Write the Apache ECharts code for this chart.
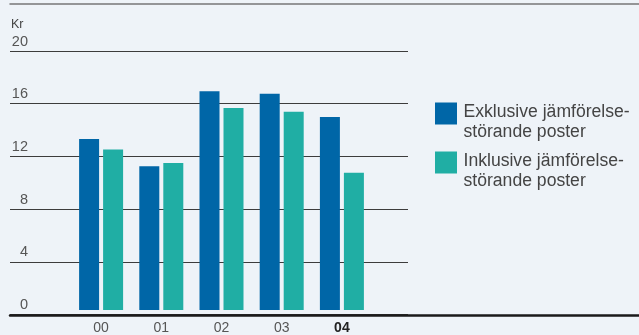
<!DOCTYPE html>
<html>
<head>
<meta charset="utf-8">
<style>
  html, body { margin: 0; padding: 0; background: #eef3f8; }
  #chart { width: 639px; height: 335px; }
</style>
<script src="https://cdn.jsdelivr.net/npm/echarts@6/dist/echarts.min.js"></script>
</head>
<body>
<div id="chart"></div>
<script>
// Resultat per aktie, kronor
const years = ['00', '01', '02', '03', '04'];
const exklusive = [13.2, 11.1, 16.9, 16.7, 14.9];
const inklusive = [12.4, 11.35, 15.6, 15.3, 10.6];
const seriesNames = ['Exklusive jämförelse-\nstörande poster', 'Inklusive jämförelse-\nstörande poster'];
const yTicks = { min: 0, max: 20, interval: 4 };

const FONT = '"Liberation Sans", Arial, sans-serif';
const BLUE = '#0066a7';
const TEAL = '#20aea4';

const chart = echarts.init(document.getElementById('chart'), null, { renderer: 'canvas' });

chart.setOption({
  backgroundColor: '#eef3f8',
  animation: false,
  textStyle: { fontFamily: FONT },
  legend: {
    orient: 'vertical',
    left: 435,
    top: 88,
    padding: 0,
    itemWidth: 22,
    itemHeight: 22,
    itemGap: -4.5,
    icon: 'rect',
    selectedMode: false,
    // a short spacer line above the two text lines keeps the swatch level with the first line
    formatter: (name) => '{s| }\n' + name.split('\n').map((l) => '{t|' + l + '}').join('\n'),
    textStyle: {
      fontFamily: FONT,
      color: '#444',
      rich: {
        s: { lineHeight: 17.5, fontSize: 10 },
        t: { fontFamily: FONT, fontSize: 17.6, lineHeight: 20.5, color: '#444', padding: [0, 0, 0, 1.5] }
      }
    },
    data: seriesNames
  },
  grid: [
    // gridlines and value labels
    { left: 10, right: 231, top: 51, bottom: 20.5 },
    // bars
    { left: 71, right: 267, top: 51, bottom: 20.5 },
    // frame lines across the full width
    { left: 10, right: 0, top: 4, bottom: 20 }
  ],
  xAxis: [
    { gridIndex: 0, type: 'value', show: false },
    {
      gridIndex: 1,
      type: 'category',
      data: years,
      axisLine: { show: false },
      axisTick: { show: false },
      axisLabel: {
        margin: 11,
        fontSize: 14,
        color: '#555',
        fontFamily: FONT,
        formatter: (v) => v === years[years.length - 1] ? '{b|' + v + '}' : v,
        rich: { b: { fontWeight: 'bold', color: '#222', fontSize: 14, fontFamily: FONT } }
      }
    },
    {
      gridIndex: 2, type: 'value', position: 'bottom',
      axisLine: { show: true, onZero: false, lineStyle: { color: '#1a1a1a', width: 2.5 } },
      axisTick: { show: false }, axisLabel: { show: false }, splitLine: { show: false }
    },
    {
      gridIndex: 2, type: 'value', position: 'top',
      axisLine: { show: true, onZero: false, lineStyle: { color: '#777', width: 1.5 } },
      axisTick: { show: false }, axisLabel: { show: false }, splitLine: { show: false }
    }
  ],
  yAxis: [
    {
      gridIndex: 0,
      type: 'value',
      min: yTicks.min,
      max: yTicks.max,
      interval: yTicks.interval,
      name: 'Kr',
      nameLocation: 'end',
      nameGap: 20,
      nameTextStyle: { align: 'left', fontSize: 12.5, color: '#444', fontFamily: FONT, padding: [0, 0, 0, 1] },
      axisLine: { show: false },
      axisTick: { show: false },
      splitLine: { lineStyle: { color: '#3c3c3c', width: 1.2 } },
      axisLabel: {
        inside: true,
        align: 'right',
        verticalAlign: 'bottom',
        margin: 18,
        padding: [0, 0, 2, 0],
        fontSize: 14.5,
        color: '#555',
        fontFamily: FONT
      }
    },
    { gridIndex: 1, type: 'value', min: yTicks.min, max: yTicks.max, show: false },
    { gridIndex: 2, type: 'value', show: false }
  ],
  series: [
    {
      name: seriesNames[0],
      type: 'bar',
      xAxisIndex: 1,
      yAxisIndex: 1,
      data: exklusive,
      barWidth: 20,
      barGap: '20%',
      itemStyle: { color: BLUE }
    },
    {
      name: seriesNames[1],
      type: 'bar',
      xAxisIndex: 1,
      yAxisIndex: 1,
      data: inklusive,
      barWidth: 20,
      barGap: '20%',
      itemStyle: { color: TEAL }
    }
  ]
});
</script>
</body>
</html>
